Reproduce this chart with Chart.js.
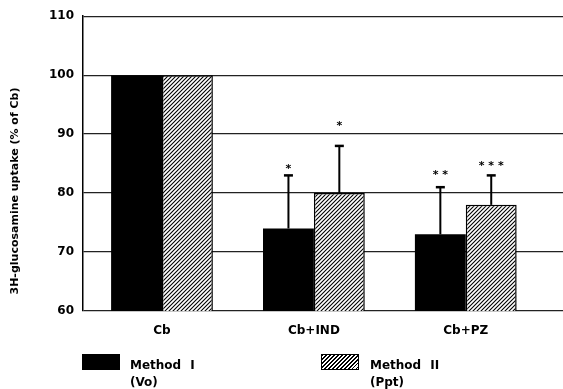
<!DOCTYPE html>
<html lang="en">
<head>
    <meta charset="UTF-8">
    <title>3H-glucosamine uptake</title>
    <style>
        body { margin: 0; background: #fff; }
        #wrap { position: relative; width: 563px; height: 389px; }
        .swatch { position: absolute; width: 38px; height: 16px; box-sizing: border-box; }
        .lbl { position: absolute; font: bold 12px "DejaVu Sans", sans-serif; line-height: 17px; color: #000; word-spacing: 5px; }
    </style>
</head>
<body>
    <div id="wrap">
        <canvas id="myChart" width="563" height="389"></canvas>
        <div class="swatch" style="left:82px; top:354px; background:#000;"></div>
        <div class="lbl" style="left:130px; top:357px;">Method I<br>(Vo)</div>
        <div class="swatch" style="left:321px; top:354px; border:1px solid #000; background:repeating-linear-gradient(135deg, #000 0 1px, #fff 1px 2.8px);"></div>
        <div class="lbl" style="left:370px; top:357px;">Method II<br>(Ppt)</div>
    </div>
    <script src="https://cdn.jsdelivr.net/npm/chart.js"></script>
    <script>
        // values
        const categories = ["Cb", "Cb+IND", "Cb+PZ"];
        const method1 = [100, 74, 73];
        const method2 = [100, 80, 78];
        const method1Err = [0, 9, 8];
        const method2Err = [0, 8, 5];
        const method1Stars = ["", "*", "* *"];
        const method2Stars = ["", "*", "* * *"];
        const method1StarAt = [null, 84.5, 83.6];
        const method2StarAt = [null, 91.8, 85.1];
        const yTicks = [60, 70, 80, 90, 100, 110];
        const yTitle = "3H-glucosamine uptake (% of Cb)";

        const canvas = document.getElementById("myChart");
        const ctx = canvas.getContext("2d");

        // diagonal hatch for method II
        const tile = document.createElement("canvas");
        tile.width = 4; tile.height = 4;
        const t = tile.getContext("2d");
        t.fillStyle = "#fff";
        t.fillRect(0, 0, 4, 4);
        t.strokeStyle = "#000";
        t.lineWidth = 1.1;
        t.beginPath();
        t.moveTo(0, 4); t.lineTo(4, 0);
        t.moveTo(-1, 1); t.lineTo(1, -1);
        t.moveTo(3, 5); t.lineTo(5, 3);
        t.stroke();
        const hatch = ctx.createPattern(tile, "repeat");

        const errs = [method1Err, method2Err];
        const stars = [method1Stars, method2Stars];
        const starAt = [method1StarAt, method2StarAt];

        const errorBars = {
            id: "errorBars",
            afterDatasetsDraw(chart) {
                const c = chart.ctx;
                const y = chart.scales.y;
                c.save();
                c.strokeStyle = "#000";
                c.fillStyle = "#000";
                chart.data.datasets.forEach((ds, i) => {
                    chart.getDatasetMeta(i).data.forEach((bar, j) => {
                        const e = errs[i][j];
                        if (e > 0) {
                            const top = y.getPixelForValue(ds.data[j].y + e);
                            c.lineWidth = 2;
                            c.beginPath();
                            c.moveTo(bar.x, bar.y);
                            c.lineTo(bar.x, top);
                            c.stroke();
                            c.lineWidth = 2.5;
                            c.beginPath();
                            c.moveTo(bar.x - 4.5, top);
                            c.lineTo(bar.x + 4.5, top);
                            c.stroke();
                        }
                        if (stars[i][j]) {
                            c.font = "bold 11px 'DejaVu Sans'";
                            c.textAlign = "center";
                            c.textBaseline = "middle";
                            c.fillText(stars[i][j], bar.x, y.getPixelForValue(starAt[i][j]) + 3);
                        }
                    });
                });
                c.restore();
            }
        };

        const sideTitle = {
            id: "sideTitle",
            afterDraw(chart) {
                const c = chart.ctx;
                const a = chart.chartArea;
                c.save();
                c.translate(15, a.bottom - 120);
                c.rotate(-Math.PI / 2);
                c.font = "bold 11px 'DejaVu Sans'";
                c.textAlign = "center";
                c.textBaseline = "middle";
                c.fillStyle = "#000";
                c.fillText(yTitle, 0, 0);
                c.restore();
            }
        };

        new Chart(ctx, {
            type: "bar",
            data: {
                datasets: [
                    {
                        label: "Method I (Vo)",
                        data: method1.map((v, i) => ({ x: i, y: v })),
                        backgroundColor: "#000",
                        borderWidth: 0
                    },
                    {
                        label: "Method II (Ppt)",
                        data: method2.map((v, i) => ({ x: i, y: v })),
                        backgroundColor: hatch,
                        borderColor: "#000",
                        borderWidth: 1.5
                    }
                ]
            },
            options: {
                responsive: false,
                animation: false,
                categoryPercentage: 0.67,
                barPercentage: 1.0,
                layout: { padding: { top: 15, right: 0, bottom: 0, left: 0 } },
                plugins: {
                    legend: { display: false },
                    tooltip: { enabled: false }
                },
                scales: {
                    x: {
                        type: "linear",
                        offset: false,
                        min: -0.52,
                        max: 2.64,
                        afterBuildTicks(scale) {
                            scale.ticks = categories.map((c, i) => ({ value: i }));
                        },
                        afterFit(scale) { scale.height = 78; },
                        grid: { display: false, drawTicks: false },
                        border: { display: false },
                        ticks: {
                            autoSkip: false,
                            maxRotation: 0,
                            padding: 13,
                            color: "#000",
                            font: { family: "DejaVu Sans", size: 12, weight: "bold" },
                            callback: (v) => categories[v]
                        }
                    },
                    y: {
                        min: 60,
                        max: 110,
                        afterBuildTicks(scale) {
                            scale.ticks = yTicks.map((v) => ({ value: v }));
                        },
                        afterFit(scale) { scale.width = 83; },
                        grid: { color: "#222", lineWidth: 1.3, drawTicks: false },
                        border: { display: true, color: "#000", width: 1.5 },
                        ticks: {
                            padding: 9,
                            color: "#000",
                            font: { family: "DejaVu Sans", size: 12, weight: "bold" }
                        }
                    }
                }
            },
            plugins: [errorBars, sideTitle]
        });
    </script>
</body>
</html>
